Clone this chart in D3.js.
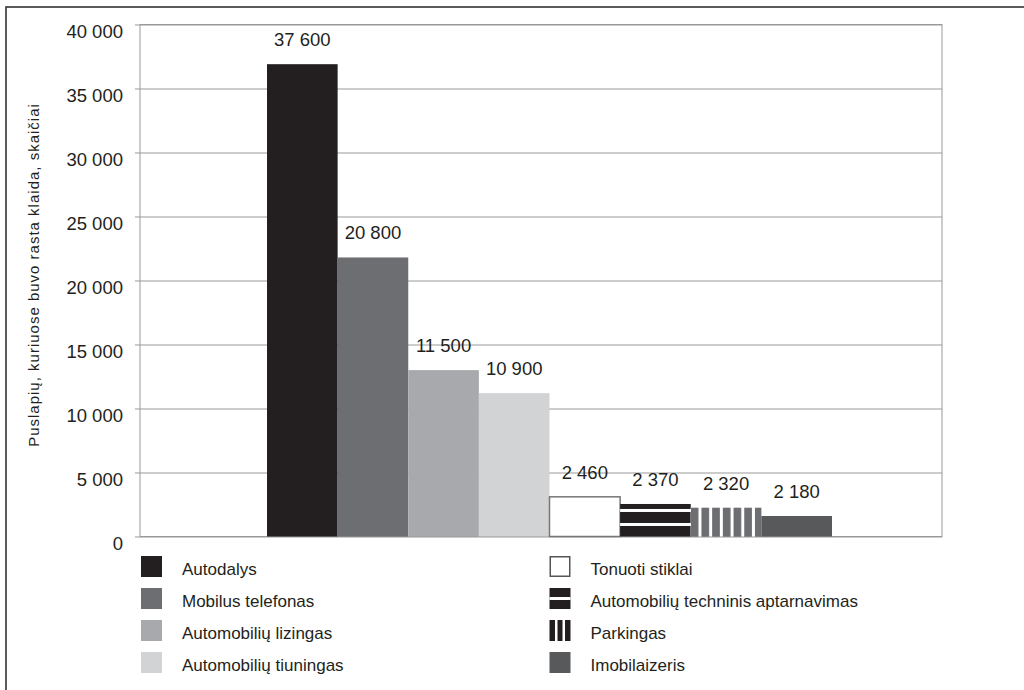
<!DOCTYPE html>
<html>
<head>
<meta charset="utf-8">
<script src="https://cdn.jsdelivr.net/npm/d3@7"></script>
<style>
  body { margin: 0; background: #fff; }
  svg text { font-family: "Liberation Sans", Arial, sans-serif; fill: #231f20; }
</style>
</head>
<body>
<svg id="chart" width="1024" height="690"></svg>
<script>
// categories, in bar order.
var categories = [
  "Autodalys",
  "Mobilus telefonas",
  "Automobilių lizingas",
  "Automobilių tiuningas",
  "Tonuoti stiklai",
  "Automobilių techninis aptarnavimas",
  "Parkingas",
  "Imobilaizeris"
];

// bar heights as drawn.
var values = [36900, 21800, 13000, 11200, 3100, 2540, 2250, 1600];

// numbers printed above the bars (the source prints these, not the drawn heights).
var valueLabels = ["37 600", "20 800", "11 500", "10 900", "2 460", "2 370", "2 320", "2 180"];

// y axis ticks.
var yTicks = [0, 5000, 10000, 15000, 20000, 25000, 30000, 35000, 40000];

var yTitle = "Puslapių, kuriuose buvo rasta klaida, skaičiai";

// fills per bar.
var fills = ["#231f20", "#6d6e71", "#a7a9ac", "#d1d3d4", "#fff", "url(#stripes-h)", "url(#stripes-v)", "#58595b"];

var svg = d3.select("#chart");
var locale = d3.formatLocale({decimal: ",", thousands: " ", grouping: [3], currency: ["", ""]});
var fmt = locale.format(",");

var plot = {left: 140, right: 942, top: 24.5, bottom: 536.5};

var y = d3.scaleLinear().domain([0, 40000]).range([plot.bottom, plot.top]);
var x = d3.scaleBand().domain(categories).range([267, 832]).padding(0);

// outer frame, runs off the page at right and bottom.
svg.append("rect")
  .attr("x", 6).attr("y", 7).attr("width", 1100).attr("height", 800)
  .attr("fill", "none").attr("stroke", "#333").attr("stroke-width", 1.6);

// patterns.
var defs = svg.append("defs");
var ph = defs.append("pattern").attr("id", "stripes-h")
  .attr("patternUnits", "userSpaceOnUse")
  .attr("x", 0).attr("y", y(values[5])).attr("width", 10).attr("height", 14);
ph.append("rect").attr("width", 10).attr("height", 14).attr("fill", "#231f20");
ph.append("rect").attr("y", 5).attr("width", 10).attr("height", 3).attr("fill", "#fff");

var pv = defs.append("pattern").attr("id", "stripes-v")
  .attr("patternUnits", "userSpaceOnUse")
  .attr("x", x(categories[6])).attr("y", 0).attr("width", 10.7).attr("height", 10);
pv.append("rect").attr("width", 10.7).attr("height", 10).attr("fill", "#fff");
pv.append("rect").attr("width", 7.7).attr("height", 10).attr("fill", "#6d6e71");

// grid + ticks.
var yAxis = d3.axisLeft(y).tickValues(yTicks).tickSize(5).tickFormat("");
var gAxis = svg.append("g").attr("transform", "translate(" + plot.left + ",0)").call(yAxis);
gAxis.select(".domain").remove();
gAxis.selectAll("line").attr("stroke", "#999");

var grid = d3.axisLeft(y).tickValues(yTicks).tickSize(-(plot.right - plot.left)).tickFormat("");
var gGrid = svg.append("g").attr("transform", "translate(" + plot.left + ",0)").call(grid);
gGrid.select(".domain").remove();
gGrid.selectAll("line").attr("stroke", "#999");

svg.selectAll(".ytick")
  .data(yTicks)
  .enter().append("text")
  .attr("class", "ytick")
  .attr("x", 123)
  .attr("y", function(d) { return y(d) + 13.5; })
  .attr("text-anchor", "end")
  .attr("font-size", 18.5)
  .text(function(d) { return fmt(d); });

// plot border.
svg.append("rect")
  .attr("x", plot.left).attr("y", plot.top)
  .attr("width", plot.right - plot.left).attr("height", plot.bottom - plot.top)
  .attr("fill", "none").attr("stroke", "#999");

// bars.
svg.selectAll(".bar")
  .data(categories)
  .enter().append("rect")
  .attr("class", "bar")
  .attr("x", function(d) { return x(d); })
  .attr("y", function(d, i) { return y(values[i]); })
  .attr("width", x.bandwidth())
  .attr("height", function(d, i) { return y(0) - y(values[i]); })
  .attr("fill", function(d, i) { return fills[i]; })
  .attr("stroke", function(d, i) { return i === 4 ? "#777" : "none"; })
  .attr("stroke-width", 1.5);

svg.selectAll(".vlabel")
  .data(categories)
  .enter().append("text")
  .attr("class", "vlabel")
  .attr("x", function(d) { return x(d) + x.bandwidth() / 2; })
  .attr("y", function(d, i) { return y(values[i]) - 18; })
  .attr("text-anchor", "middle")
  .attr("font-size", 18.5)
  .text(function(d, i) { return valueLabels[i]; });

// y title.
svg.append("text")
  .attr("transform", "translate(38.5,275) rotate(-90)")
  .attr("text-anchor", "middle")
  .attr("font-size", 15)
  .attr("letter-spacing", 1)
  .text(yTitle);

// legend: two columns of four.
var legend = svg.selectAll(".legend")
  .data(categories)
  .enter().append("g")
  .attr("class", "legend")
  .attr("transform", function(d, i) {
    var col = Math.floor(i / 4), row = i % 4;
    return "translate(" + (col === 0 ? 141 : 549.5) + "," + (556 + row * 32) + ")";
  });

legend.each(function(d, i) {
  var g = d3.select(this);
  if (i === 4) {
    g.append("rect").attr("x", 0.75).attr("y", 0.75).attr("width", 19.5).attr("height", 19.5)
      .attr("fill", "#fff").attr("stroke", "#555").attr("stroke-width", 1.5);
  } else if (i === 5) {
    g.append("rect").attr("width", 21).attr("height", 21).attr("fill", "#231f20");
    g.append("rect").attr("y", 9).attr("width", 21).attr("height", 3).attr("fill", "#fff");
  } else if (i === 6) {
    g.append("rect").attr("width", 21).attr("height", 21).attr("fill", "#231f20");
    g.append("rect").attr("x", 5.5).attr("width", 2.5).attr("height", 21).attr("fill", "#fff");
    g.append("rect").attr("x", 13).attr("width", 2.5).attr("height", 21).attr("fill", "#fff");
  } else {
    g.append("rect").attr("width", 21).attr("height", 21).attr("fill", fills[i]);
  }
  g.append("text")
    .attr("x", 41).attr("y", 19)
    .attr("font-size", 17)
    .text(d);
});
</script>
</body>
</html>
